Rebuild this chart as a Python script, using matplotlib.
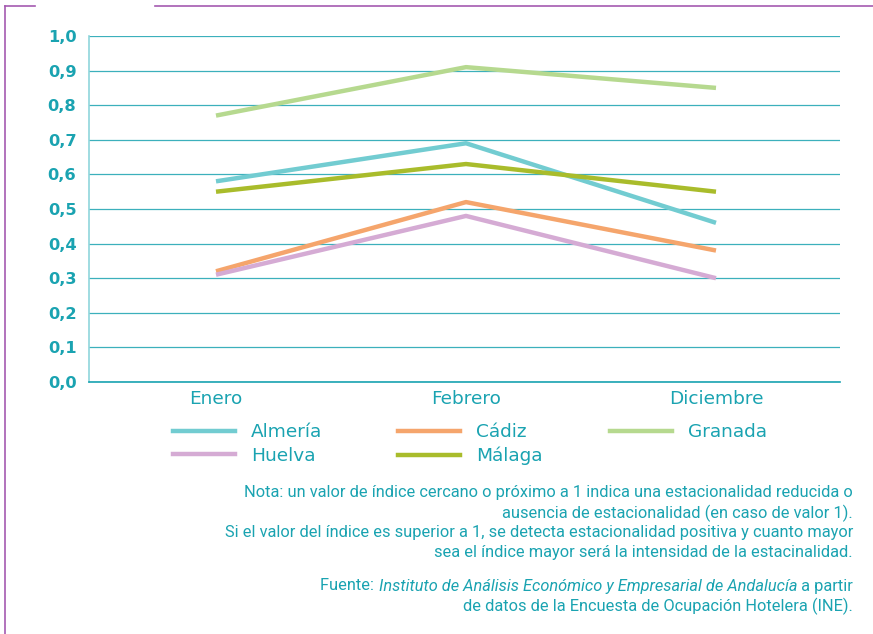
import numpy as np
import matplotlib.pyplot as plt
from matplotlib.lines import Line2D

# indice de estacionalidad por provincia

meses = ['Enero', 'Febrero', 'Diciembre']
almeria = [0.58, 0.69, 0.46]
cadiz = [0.32, 0.52, 0.38]
granada = [0.77, 0.91, 0.85]
huelva = [0.31, 0.48, 0.30]
malaga = [0.55, 0.63, 0.55]
yticks = np.arange(0, 1.01, 0.1)

teal = '#1aa3b1'
purple = '#a45ab0'
W, H = 873, 634

plt.rcParams['font.family'] = ['DejaVu Sans']

fig = plt.figure(figsize=(W/100, H/100), dpi=100)
ax = fig.add_axes([89/W, 1-382/H, 751/W, 346/H])

x = np.arange(len(meses))
series = [('Almería', almeria, '#72ccd1'), ('Cádiz', cadiz, '#f5a56c'),
          ('Granada', granada, '#b6d98f'), ('Huelva', huelva, '#d5abd4'),
          ('Málaga', malaga, '#a9bc2b')]
for name, vals, c in series:
    ax.plot(x, vals, color=c, linewidth=3.2, solid_capstyle='butt', label=name, zorder=3)

ax.set_xlim(-0.508, 2.496)
ax.set_ylim(0, 1.0)
ax.set_yticks(yticks)
ax.set_yticklabels([f'{v:.1f}'.replace('.', ',') for v in yticks],
                   fontsize=11.7, fontweight='bold', color=teal)
ax.set_xticks(x)
ax.set_xticklabels(meses, fontsize=13.3, color=teal)
ax.tick_params(length=0)
ax.tick_params(axis='y', pad=9)
ax.tick_params(axis='x', pad=6)
ax.grid(axis='y', color=teal, linewidth=0.9, alpha=0.85)
for s in ['top', 'right']:
    ax.spines[s].set_visible(False)
ax.spines['left'].set_color('#8fd6dc')
ax.spines['left'].set_linewidth(1.2)
ax.spines['bottom'].set_color(teal)
ax.spines['bottom'].set_linewidth(1.2)

# leyenda en tres columnas
handles = {n: Line2D([], [], color=c, linewidth=3.2) for n, v, c in series}
cols = [(['Almería', 'Huelva'], 173), (['Cádiz', 'Málaga'], 398), (['Granada'], 610)]
for names, xpos in cols:
    leg = fig.legend([handles[n] for n in names], names, frameon=False,
                     loc='upper left', bbox_to_anchor=(xpos/W, 1-423/H),
                     borderpad=0, borderaxespad=0, handlelength=3.36,
                     handletextpad=0.85, labelspacing=0.3, fontsize=13.3)
    for t in leg.get_texts():
        t.set_color(teal)

fs = 11.8
nota = ['Nota: un valor de índice cercano o próximo a 1 indica una estacionalidad reducida o',
        'ausencia de estacionalidad (en caso de valor 1).',
        'Si el valor del índice es superior a 1, se detecta estacionalidad positiva y cuanto mayor',
        'sea el índice mayor será la intensidad de la estacinalidad.']
for linea, yp in zip(nota, [493, 513, 533, 553]):
    fig.text(853/W, 1-yp/H, linea, ha='right', va='center', fontsize=fs,
             color=teal, family='Roboto')

fig.text(853/W, 1-606/H, 'de datos de la Encuesta de Ocupación Hotelera (INE).',
         ha='right', va='center', fontsize=fs, color=teal, family='Roboto')
t3 = fig.text(853/W, 1-586/H, ' a partir', ha='right', va='center', fontsize=fs,
              color=teal, family='Roboto')
fig.canvas.draw()
bb = t3.get_window_extent()
t2 = fig.text(bb.x0/W, 1-586/H, 'Instituto de Análisis Económico y Empresarial de Andalucía',
              ha='right', va='center', fontsize=fs, color=teal, family='Roboto', style='italic')
fig.canvas.draw()
bb2 = t2.get_window_extent()
fig.text(bb2.x0/W, 1-586/H, 'Fuente: ', ha='right', va='center', fontsize=fs,
         color=teal, family='Roboto')

# marco morado
fig.add_artist(Line2D([5/W, 5/W], [0, 1-6/H], color=purple, linewidth=1.2))
fig.add_artist(Line2D([5/W, 35/W], [1-6/H, 1-6/H], color=purple, linewidth=1.2))
fig.add_artist(Line2D([155/W, 1], [1-6/H, 1-6/H], color=purple, linewidth=1.2))

fig.savefig('out.png', dpi=100)
